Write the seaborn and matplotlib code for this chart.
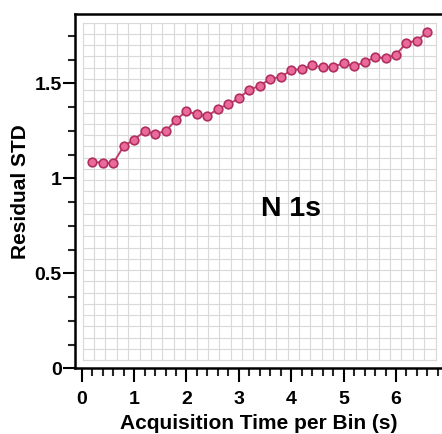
import numpy as np
import pandas as pd
import matplotlib
matplotlib.use("Agg")
import matplotlib.pyplot as plt
from matplotlib.ticker import MultipleLocator, FixedLocator
import seaborn as sns

# ---- data ----
acq_time = [0.2, 0.4, 0.6, 0.8, 1.0, 1.2, 1.4, 1.6, 1.8, 2.0, 2.2, 2.4, 2.6, 2.8,
            3.0, 3.2, 3.4, 3.6, 3.8, 4.0, 4.2, 4.4, 4.6, 4.8, 5.0, 5.2, 5.4, 5.6,
            5.8, 6.0, 6.2, 6.4, 6.6]
residual_std = [1.086, 1.082, 1.079, 1.168, 1.204, 1.247, 1.235, 1.247, 1.307,
                1.353, 1.337, 1.326, 1.367, 1.389, 1.421, 1.467, 1.486, 1.525,
                1.532, 1.570, 1.574, 1.595, 1.584, 1.588, 1.605, 1.589, 1.611,
                1.637, 1.632, 1.651, 1.712, 1.725, 1.770]
x_ticks = [0, 1, 2, 3, 4, 5, 6]
x_ticklabels = ["0", "1", "2", "3", "4", "5", "6"]
y_ticks = [0, 0.5, 1, 1.5]
y_ticklabels = ["0", "0.5", "1", "1.5"]
annotation = "N 1s"
x_label = "Acquisition Time per Bin (s)"
y_label = "Residual STD"

df = pd.DataFrame({"t": acq_time, "std": residual_std})

sns.set_style("white")
plt.rcParams["font.family"] = ["Liberation Sans", "DejaVu Sans"]
plt.rcParams["font.weight"] = "bold"
plt.rcParams["axes.labelcolor"] = "black"
plt.rcParams["text.color"] = "black"

W, H = 442, 434
fig = plt.figure(figsize=(W / 100, H / 100), dpi=100)

# graph-paper background panel
bg = fig.add_axes([82.7 / W, (H - 360) / H, (435.5 - 82.7) / W, (360 - 22.7) / H])
bg.set_xlim(0, 31)
bg.set_ylim(0, 30)
bg.set_xticks(np.arange(0, 32))
bg.set_yticks(np.arange(0, 31))
bg.tick_params(length=0, labelbottom=False, labelleft=False)
bg.grid(True, color="#d9d9d9", linewidth=0.8)
for s in bg.spines.values():
    s.set_color("#d9d9d9")
    s.set_linewidth(0.8)
bg.set_facecolor("white")
bg.set_zorder(0)

# main axes
ax = fig.add_axes([75 / W, (H - 368.3) / H, (442 - 75) / W, (368.3 - 14) / H])
ax.set_zorder(1)
ax.patch.set_alpha(0)

sns.lineplot(data=df, x="t", y="std", ax=ax, color="#c03c6c", linewidth=1.4,
             marker="o", markersize=6.2, markerfacecolor="#ea6a9c",
             markeredgecolor="#b02f5e", markeredgewidth=1.2)

ax.set_xlim((75 - 81.7) / 52.38, (442 - 81.7) / 52.38)
ax.set_ylim(0, (368.3 - 14) / 190)

ax.xaxis.set_major_locator(FixedLocator(x_ticks))
ax.set_xticklabels(x_ticklabels)
ax.xaxis.set_minor_locator(MultipleLocator(0.2))
ax.yaxis.set_major_locator(FixedLocator(y_ticks))
ax.set_yticklabels(y_ticklabels)
ax.yaxis.set_minor_locator(MultipleLocator(0.125))

for side in ["left", "bottom", "top"]:
    ax.spines[side].set_visible(True)
    ax.spines[side].set_linewidth(1.8)
    ax.spines[side].set_color("black")
ax.spines["right"].set_visible(False)

ax.tick_params(axis="x", which="major", direction="out", length=10, width=1.5,
               pad=6, labelsize=14, colors="black", bottom=True, top=False)
ax.tick_params(axis="x", which="minor", direction="out", length=5.4, width=1.5,
               bottom=True, top=False)
ax.tick_params(axis="y", which="major", direction="out", length=8.6, width=1.5,
               pad=1, labelsize=14, colors="black", left=True)
ax.tick_params(axis="y", which="minor", direction="out", length=5, width=1.5,
               left=True)
for lbl in ax.get_xticklabels() + ax.get_yticklabels():
    lbl.set_fontweight("bold")

ax.set_xlabel(x_label, fontsize=15, fontweight="bold", labelpad=5, color="black")
ax.set_ylabel(y_label, fontsize=15, fontweight="bold", labelpad=3, color="black")

ax.text(4.0, 0.8, annotation, fontsize=20.5, fontweight="bold", ha="center",
        va="baseline", color="black")

fig.savefig("out.png", dpi=100)
